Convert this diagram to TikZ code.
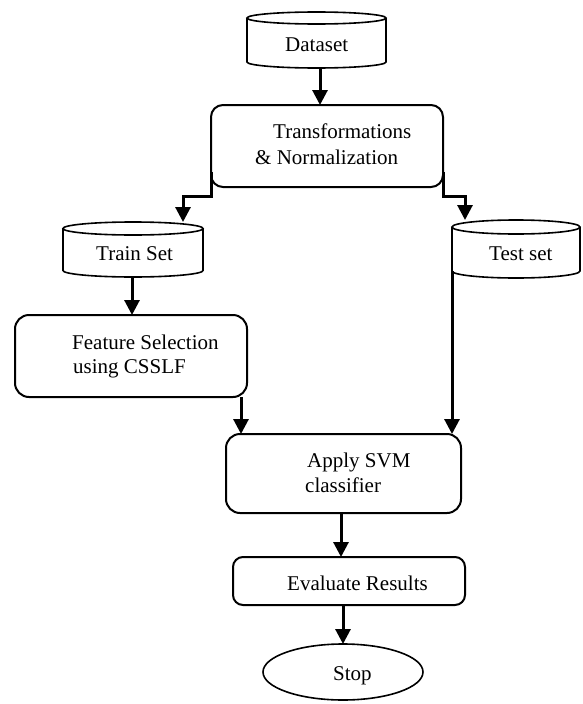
\documentclass[tikz,border=0pt]{standalone}
\usepackage{fontspec}
\setmainfont{Liberation Serif}
\usetikzlibrary{arrows.meta,shapes.geometric,calc}

\tikzset{
  shapebox/.style={rectangle, inner sep=0pt, outer sep=0pt},
  roundbox/.style={shapebox, draw, line width=2pt},
  cylbox/.style={shapebox},
  cylline/.style={line width=1.6pt},
  endoval/.style={ellipse, draw, line width=1.6pt, inner sep=0pt, outer sep=0pt},
  label text/.style={anchor=base west, inner sep=0pt, font=\fontsize{21}{25}\selectfont},
  flow/.style={line width=3pt, -{Triangle[width=15pt,length=15pt]}},
}

% vertical drum: node name, half width, radius of the end ellipse
\newcommand\drawdrum[3]{%
  \draw[cylline] ([yshift=-#3]#1.north west) -- ([yshift=#3]#1.south west)
    arc[start angle=180, end angle=360, x radius=#2, y radius=#3]
    -- ([yshift=-#3]#1.north east);
  \draw[cylline] ([yshift=-#3]#1.north) ellipse[x radius=#2, y radius=#3];
}

\begin{document}
\begin{tikzpicture}[x=1pt, y=-1pt]
\useasboundingbox (0,0) rectangle (582,704);

% drums
\node[cylbox, minimum width=139pt, minimum height=56pt] (ds) at (316.5,40) {};
\node[cylbox, minimum width=140pt, minimum height=55pt] (tr) at (133,249.5) {};
\node[cylbox, minimum width=128pt, minimum height=58pt] (te) at (516,249) {};
\drawdrum{ds}{69.5pt}{6pt}
\drawdrum{tr}{70pt}{6.5pt}
\drawdrum{te}{64pt}{7pt}

% process boxes
\node[roundbox, rounded corners=12pt, minimum width=232pt, minimum height=82pt] (tn) at (327,146) {};
\node[roundbox, rounded corners=14pt, minimum width=232pt, minimum height=82pt] (fs) at (131,356) {};
\node[roundbox, rounded corners=14pt, minimum width=235pt, minimum height=79pt] (svm) at (343.5,473.5) {};
\node[roundbox, rounded corners=10pt, minimum width=232pt, minimum height=48pt] (ev) at (349,581) {};
\node[endoval, minimum width=160pt, minimum height=56pt] (stop) at (343,672) {};

% labels
\node[label text] (ds-t) at (285,51) {Dataset};
\node[label text] (tn-t1) at (273,138) {Transformations};
\node[label text] (tn-t2) at (255,164) {\& Normalization};
\node[label text] (tr-t) at (96,260) {Train Set};
\node[label text] (te-t) at (489,260) {Test set};
\node[label text] (fs-t1) at (72,349) {Feature Selection};
\node[label text] (fs-t2) at (73,373) {using CSSLF};
\node[label text] (svm-t1) at (307,467) {Apply SVM};
\node[label text] (svm-t2) at (305,492) {classifier};
\node[label text] (ev-t) at (287,590) {Evaluate Results};
\node[label text] (stop-t) at (333,680) {Stop};

% connectors
\draw[flow] ([xshift=3.5pt]ds.south) -- ([xshift=-7pt]tn.north);
\draw[flow] ([yshift=-26pt]tn.west) -- ++(0,24) -| ([xshift=50pt]tr.north);
\draw[flow] ([yshift=-26pt]tn.east) -- ++(0,24) -| ([xshift=-51pt]te.north);
\draw[flow] ([xshift=-1pt]tr.south) -- ([xshift=1pt]fs.north);
\draw[flow] ([xshift=-6pt]fs.south east) -- ([xshift=-6pt]fs.south east |- svm.north);
\draw[flow] ([yshift=7pt]te.south west) -- (te.south west |- svm.north);
\draw[flow] ([xshift=-2.5pt]svm.south) -- ([xshift=-2.5pt]svm.south |- ev.north);
\draw[flow] (stop.north |- ev.south) -- (stop.north);
\end{tikzpicture}
\end{document}
